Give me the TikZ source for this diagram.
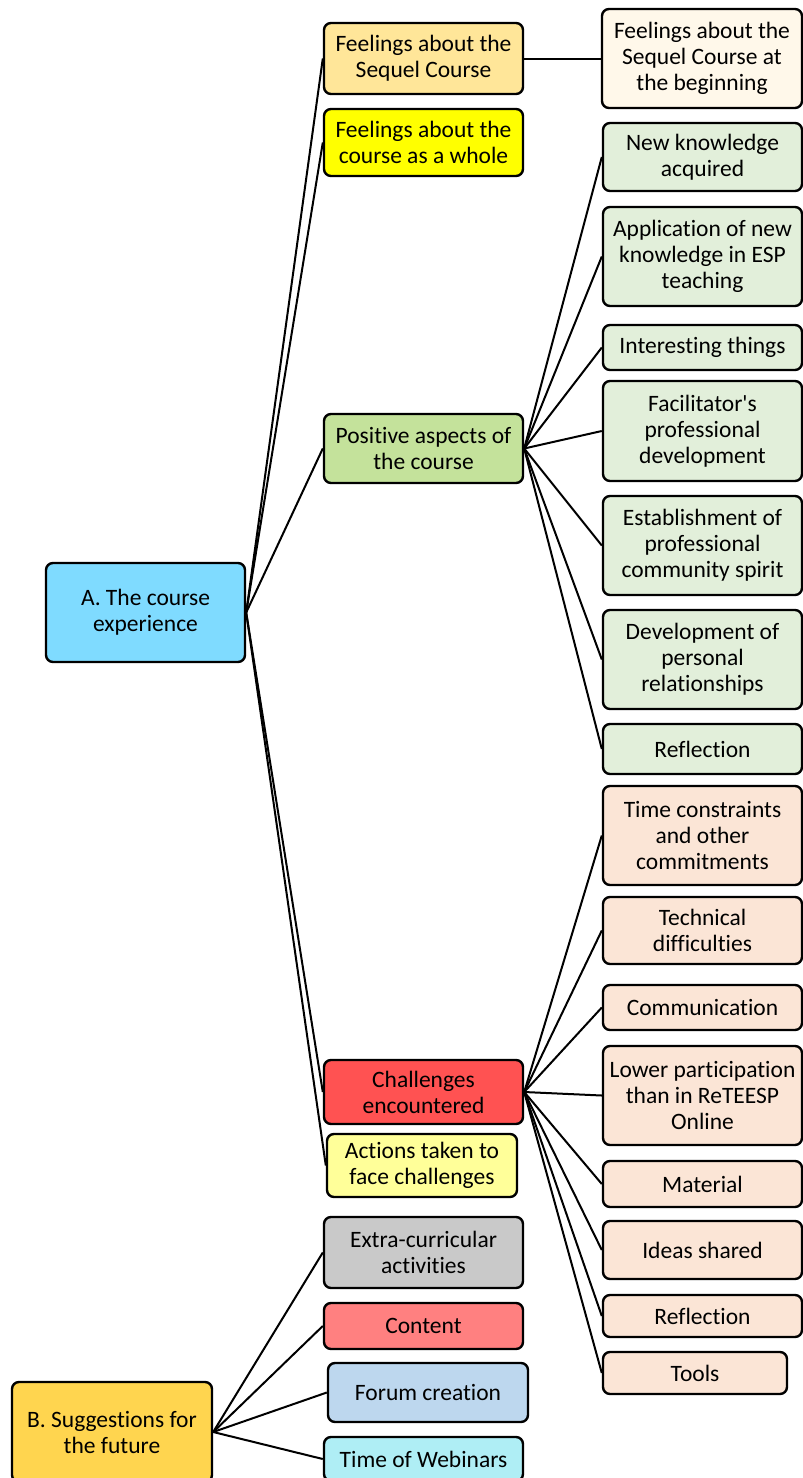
\documentclass[tikz,border=0pt]{standalone}
\usepackage{fontspec}
\setmainfont{Carlito}[Ligatures={TeXOff,CommonOff}]
\definecolor{cA}{HTML}{7FDBFF}
\definecolor{cB}{HTML}{FFD54F}
\definecolor{cSeq}{HTML}{FFE699}
\definecolor{cWhole}{HTML}{FFFF00}
\definecolor{cPos}{HTML}{C4E29B}
\definecolor{cChal}{HTML}{FF5252}
\definecolor{cAct}{HTML}{FFFF99}
\definecolor{cExtra}{HTML}{C9C9C9}
\definecolor{cCont}{HTML}{FF8080}
\definecolor{cForum}{HTML}{BDD7EE}
\definecolor{cWeb}{HTML}{AFEEF5}
\definecolor{cSeqLeaf}{HTML}{FFF8EA}
\definecolor{cGreen}{HTML}{E2EFDA}
\definecolor{cPeach}{HTML}{FBE5D6}
\tikzset{
  box/.style={draw=black, line width=2.4pt, rounded corners=7pt, align=center,
    inner sep=0pt, font=\fontsize{23.5}{26}\selectfont},
  link/.style={draw=black, line width=2pt},
}
% \mapbox{name}{x1}{y1}{x2}{y2}{fill}{text}
\newcommand{\mapbox}[7]{%
  \node[box, fill=#6, minimum width={#4-#2}, minimum height={#5-#3}]
    (#1) at ({(#2+#4)/2},{(#3+#5)/2}) {#7};}
\begin{document}
\begin{tikzpicture}[x=1pt,y=-1pt]
\useasboundingbox (0,0) rectangle (803,1478);
% roots
\mapbox{A}{46}{563}{245}{662}{cA}{A. The course\\experience}
\mapbox{B}{12}{1382}{212}{1482}{cB}{B. Suggestions for\\the future}
% second level under A
\mapbox{seq}{324}{23}{523}{94}{cSeq}{Feelings about the\\Sequel Course}
\mapbox{whole}{324}{109}{523}{176}{cWhole}{Feelings about the\\course as a whole}
\mapbox{pos}{324}{414}{523}{483}{cPos}{Positive aspects of\\the course}
\mapbox{chal}{324}{1060}{523}{1124}{cChal}{Challenges\\encountered}
\mapbox{act}{327}{1134}{517}{1197}{cAct}{Actions taken to\\face challenges}
% second level under B
\mapbox{extra}{324}{1217}{523}{1288}{cExtra}{Extra-curricular\\activities}
\mapbox{cont}{324}{1303}{523}{1349}{cCont}{Content}
\mapbox{forum}{328}{1363}{528}{1422}{cForum}{Forum creation}
\mapbox{web}{324}{1437}{523}{1481}{cWeb}{Time of Webinars}
% third level
\mapbox{seqb}{602}{9}{802}{108}{cSeqLeaf}{Feelings about the\\Sequel Course at\\the beginning}
\mapbox{p1}{603}{123}{802}{191}{cGreen}{New knowledge\\acquired}
\mapbox{p2}{603}{207}{802}{306}{cGreen}{Application of new\\knowledge in ESP\\teaching}
\mapbox{p3}{603}{325}{802}{370}{cGreen}{Interesting things}
\mapbox{p4}{603}{381}{802}{481}{cGreen}{Facilitator's\\professional\\development}
\mapbox{p5}{603}{496}{802}{595}{cGreen}{Establishment of\\professional\\community spirit}
\mapbox{p6}{603}{610}{802}{709}{cGreen}{Development of\\personal\\relationships}
\mapbox{p7}{603}{724}{802}{774}{cGreen}{Reflection}
\mapbox{c1}{603}{786}{802}{885}{cPeach}{Time constraints\\and other\\commitments}
\mapbox{c2}{603}{897}{802}{964}{cPeach}{Technical\\difficulties}
\mapbox{c3}{603}{985}{802}{1030}{cPeach}{Communication}
\mapbox{c4}{603}{1046}{802}{1145}{cPeach}{Lower participation\\than in ReTEESP\\Online}
\mapbox{c5}{603}{1161}{802}{1207}{cPeach}{Material}
\mapbox{c6}{603}{1221}{802}{1279}{cPeach}{Ideas shared}
\mapbox{c7}{603}{1295}{802}{1337}{cPeach}{Reflection}
\mapbox{c8}{603}{1352}{787}{1394}{cPeach}{Tools}
% connectors
\foreach \n in {seq,whole,pos,chal,act} \draw[link] (A.east) -- (\n.west);
\foreach \n in {extra,cont,forum,web} \draw[link] (B.east) -- (\n.west);
\draw[link] (seq.east) -- (seqb.west);
\foreach \n in {p1,p2,p3,p4,p5,p6,p7} \draw[link] (pos.east) -- (\n.west);
\foreach \n in {c1,c2,c3,c4,c5,c6,c7,c8} \draw[link] (chal.east) -- (\n.west);
\end{tikzpicture}
\end{document}
